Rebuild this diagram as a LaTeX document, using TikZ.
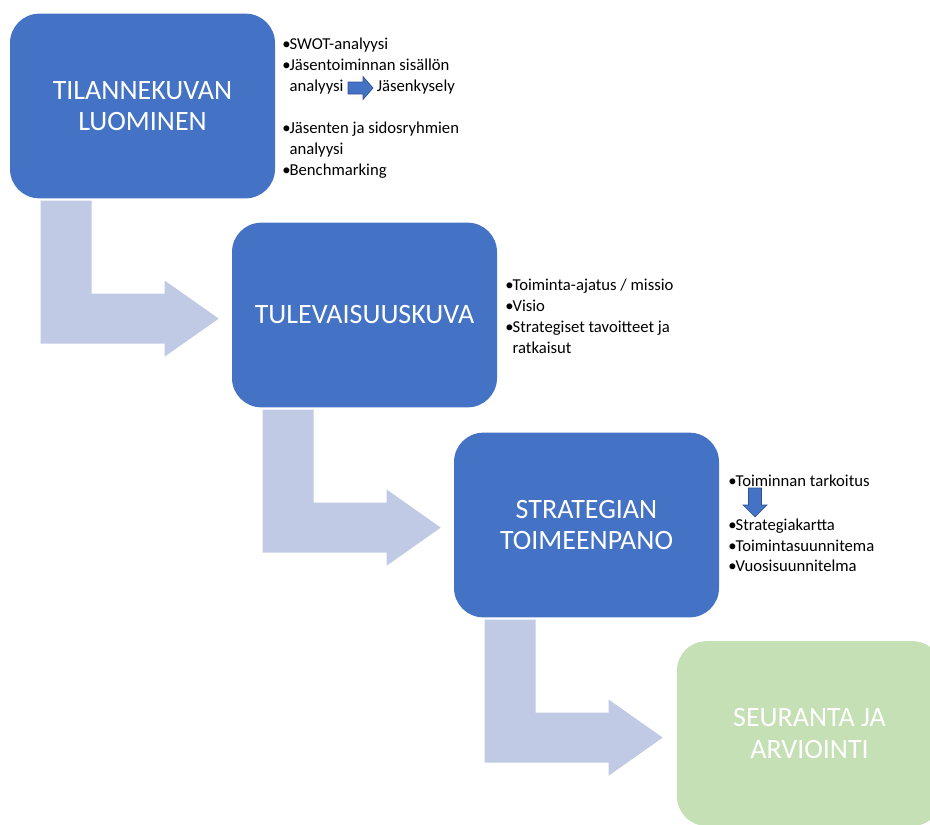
\documentclass[tikz,border=0pt]{standalone}
\usepackage{fontspec}
\setmainfont{Carlito}
\usetikzlibrary{calc}

\definecolor{boxblue}{RGB}{68,114,196}
\definecolor{boxgreen}{RGB}{197,224,180}
\definecolor{flowblue}{RGB}{192,202,229}
\definecolor{edgeblue}{RGB}{47,82,143}

% bullet with a fixed width so wrapped lines align with the text
\newcommand{\bul}{\makebox[5.5pt][l]{\textbullet}}
\newcommand{\ind}{\hspace*{5.5pt}}

\tikzset{
  stagebox/.style={draw=none, rounded corners=22pt,
    minimum width=198.75pt, minimum height=138.5pt,
    inner sep=0pt, align=center, text=white,
    font=\fontsize{21pt}{23.5pt}\selectfont},
  bluestage/.style={stagebox, fill=boxblue},
  greenstage/.style={stagebox, fill=boxgreen},
  notes/.style={anchor=north west, inner sep=0pt, align=left,
    font=\fontsize{12.5pt}{15.6pt}\selectfont},
  flowarrow/.style={fill=flowblue, draw=none},
  miniarrow/.style={fill=boxblue, draw=edgeblue, line width=0.5pt, line join=miter}
}

\begin{document}
\begin{tikzpicture}[x=0.75pt, y=-0.75pt]
  \useasboundingbox (0,0) rectangle (930,824);
  \clip (0,0) rectangle (930,824);

  % stages
  \node[bluestage]  (b1) at (142.5,106)   {TILANNEKUVAN\\LUOMINEN};
  \node[bluestage]  (b2) at (364.5,315)   {TULEVAISUUSKUVA};
  \node[bluestage]  (b3) at (586.5,525)   {STRATEGIAN\\TOIMEENPANO};
  \node[greenstage] (b4) at (809.5,733.5) {SEURANTA JA\\ARVIOINTI};

  % bent block arrows leading from one stage to the next
  \foreach \src in {b1,b2,b3}{
    \begin{scope}[shift={(\src.south west)}]
      \fill[flowarrow] (31,2) -- (82,2) -- (82,95) -- (155,95) -- (155,82)
        -- (209,120) -- (155,158) -- (155,145) -- (31,145) -- cycle;
    \end{scope}
  }

  % notes beside the stages
  \node[notes] (n1) at (282,38) {%
    \bul SWOT-analyysi\\
    \bul Jäsentoiminnan sisällön\\
    \ind analyysi\hspace{25pt}Jäsenkysely\\[16pt]
    \bul Jäsenten ja sidosryhmien\\
    \ind analyysi\\
    \bul Benchmarking};

  \node[notes] (n2) at (505,279) {%
    \bul Toiminta-ajatus / missio\\
    \bul Visio\\
    \bul Strategiset tavoitteet ja\\
    \ind ratkaisut};

  \node[notes] (n3) at (728,475) {%
    \bul Toiminnan tarkoitus\\[17pt]
    \bul Strategiakartta\\
    \bul Toimintasuunnitema\\
    \bul Vuosisuunnitelma};

  % small block arrows inside the notes
  \draw[miniarrow] (348,82) -- (363,82) -- (363,76.5) -- (373,88) -- (363,99.5)
    -- (363,94) -- (348,94) -- cycle;
  \draw[miniarrow] (748.5,488) -- (761.5,488) -- (761.5,505) -- (767,505)
    -- (755,517) -- (743,505) -- (748.5,505) -- cycle;
\end{tikzpicture}
\end{document}
